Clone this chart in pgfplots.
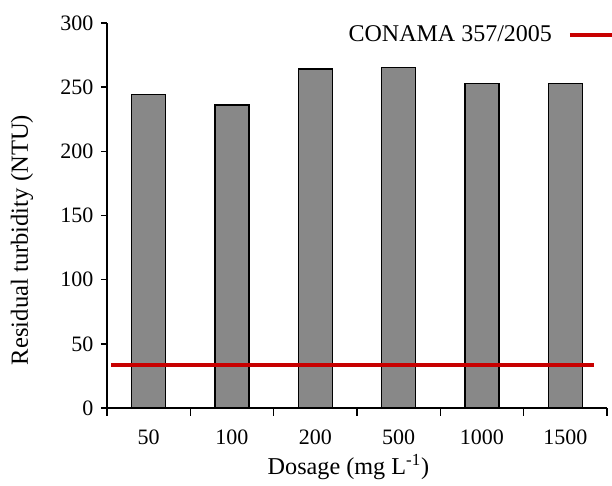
\documentclass[border=0pt]{standalone}
\usepackage{pgfplots}
\pgfplotsset{compat=1.18}
\usepackage{fontspec}
\setmainfont{Liberation Serif}
\definecolor{barg}{RGB}{136,136,136}
\definecolor{limred}{RGB}{200,0,0}
\begin{document}
\fontsize{11}{13}\selectfont
\begin{tikzpicture}
\begin{axis}[
  scale only axis,
  width=250pt, height=192.5pt,
  at={(0,0)}, anchor=south west,
  xmin=-0.5, xmax=5.5,
  ymin=0, ymax=300,
  ytick={0,50,...,300},
  xtick={0,...,5},
  xticklabels={50,100,200,500,1000,1500},
  major x tick style={draw=none},
  minor xtick={-0.5,0.5,...,5.5},
  minor tick length=4pt,
  major tick length=3pt,
  tick align=outside,
  xtick pos=bottom, ytick pos=left,
  axis x line*=bottom, axis y line*=left,
  axis line style={line width=0.75pt, -},
  every tick/.style={black, line width=0.75pt},
  xticklabel style={yshift=-4pt},
  /pgf/number format/assume math mode=true,
  tick label style={font=\fontsize{11}{13}\selectfont},
  ylabel={Residual turbidity (NTU)},
  xlabel={Dosage (mg L\textsuperscript{-1})},
  every axis y label/.style={at={(-42.5pt,84pt)}, rotate=90, anchor=center, font=\fontsize{12.3}{15}\selectfont},
  every axis x label/.style={at={(120.75pt,-29.5pt)}, anchor=center, font=\fontsize{12.1}{14}\selectfont},
  legend style={draw=none, fill=none, inner sep=0pt, outer sep=0pt,
    at={(254.5pt,186.5pt)}, anchor=east, font=\fontsize{12}{14}\selectfont,
    /tikz/every odd column/.append style={column sep=6pt}},
  legend plot pos=right,
  legend cell align=right,
  legend image code/.code={\draw[#1] (0pt,0pt) -- (22pt,0pt);},
]
\addplot[ybar, bar width=17pt, fill=barg, draw=black, line width=0.6pt, forget plot]
  coordinates {(0,244.4) (1,236.1) (2,264.2) (3,265.5) (4,253.0) (5,253.0)};
\addplot[limred, line width=2pt] coordinates {(-0.45,33.5) (5.35,33.5)};
\addlegendentry{CONAMA 357/2005}
\end{axis}
\pgfresetboundingbox
\path (-53.5pt,-39pt) rectangle (252.5pt,204pt);
\end{tikzpicture}
\end{document}
